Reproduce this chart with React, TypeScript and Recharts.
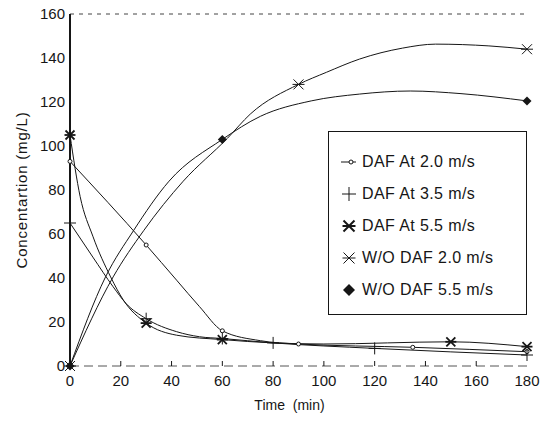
import { ComposedChart, Line, Scatter, XAxis, YAxis } from 'recharts';

// axis ticks
const timeTicks = [0, 20, 40, 60, 80, 100, 120, 140, 160, 180];
const concTicks = [0, 20, 40, 60, 80, 100, 120, 140, 160];

const seriesNames = [
  'DAF At 2.0 m/s',
  'DAF At 3.5 m/s',
  'DAF At 5.5 m/s',
  'W/O DAF 2.0 m/s',
  'W/O DAF 5.5 m/s',
];

const daf20Curve = [
  { t: 0, c: 93 }, { t: 30, c: 55 }, { t: 42, c: 39 }, { t: 51, c: 27 }, { t: 60, c: 16 },
  { t: 75, c: 11.5 }, { t: 90, c: 10 }, { t: 135, c: 8.5 }, { t: 180, c: 6.5 },
];
const daf20Points = [
  { t: 0, c: 93 }, { t: 30, c: 55 }, { t: 60, c: 16 }, { t: 90, c: 10 }, { t: 135, c: 8.5 }, { t: 180, c: 6.5 },
];

const daf35Curve = [
  { t: 0, c: 65 }, { t: 9, c: 49.5 }, { t: 17, c: 36 }, { t: 22, c: 28.5 }, { t: 30, c: 21.5 },
  { t: 42, c: 15.6 }, { t: 51, c: 13.3 }, { t: 60, c: 12.5 }, { t: 80, c: 10.5 }, { t: 120, c: 8 }, { t: 180, c: 5 },
];
const daf35Points = [
  { t: 0, c: 65 }, { t: 30, c: 21.5 }, { t: 60, c: 12.5 }, { t: 80, c: 10.5 }, { t: 120, c: 8 }, { t: 180, c: 5 },
];

const daf55Curve = [
  { t: 0, c: 105 }, { t: 4, c: 77 }, { t: 9, c: 59 }, { t: 16, c: 40.5 }, { t: 21, c: 30 }, { t: 30, c: 19.5 },
  { t: 42, c: 14 }, { t: 60, c: 12 }, { t: 80, c: 10.5 }, { t: 100, c: 10 }, { t: 150, c: 11 }, { t: 180, c: 8.8 },
];
const daf55Points = [
  { t: 0, c: 105 }, { t: 30, c: 19.5 }, { t: 60, c: 12 }, { t: 150, c: 11 }, { t: 180, c: 8.8 },
];

const wo20Curve = [
  { t: 0, c: 0 }, { t: 17, c: 40.5 }, { t: 29, c: 61.5 }, { t: 44.6, c: 84 }, { t: 62, c: 103.5 },
  { t: 71, c: 114.5 }, { t: 90, c: 128 }, { t: 101, c: 133.5 }, { t: 114, c: 139.5 }, { t: 131, c: 144.5 },
  { t: 144, c: 146.3 }, { t: 165, c: 145.5 }, { t: 180, c: 144 },
];
const wo20Points = [{ t: 0, c: 0 }, { t: 90, c: 128 }, { t: 180, c: 144 }];

const wo55Curve = [
  { t: 0, c: 0 }, { t: 14, c: 40.5 }, { t: 25, c: 61.5 }, { t: 39, c: 84 }, { t: 60, c: 103 },
  { t: 75, c: 113.5 }, { t: 95, c: 120.5 }, { t: 114, c: 123.6 }, { t: 134, c: 125 }, { t: 154, c: 123.8 },
  { t: 180, c: 120.5 },
];
const wo55Points = [{ t: 0, c: 0 }, { t: 60, c: 103 }, { t: 180, c: 120.5 }];

const INK = '#161616';
const FONT = '"Liberation Sans", Arial, Helvetica, sans-serif';

// marker glyphs
const OpenDot = ({ cx, cy }: any) => (
  <circle cx={cx} cy={cy} r={2} fill="#fff" stroke={INK} strokeWidth={1} />
);
const Plus = ({ cx, cy, s = 6 }: any) => (
  <g stroke={INK} strokeWidth={1}>
    <line x1={cx - s} x2={cx + s} y1={cy} y2={cy} />
    <line x1={cx} x2={cx} y1={cy - s} y2={cy + s} />
  </g>
);
const Asterisk = ({ cx, cy, s = 4.5, w = 1.8 }: any) => (
  <g stroke={INK} strokeWidth={w}>
    <line x1={cx - s} x2={cx + s} y1={cy - s} y2={cy + s} />
    <line x1={cx - s} x2={cx + s} y1={cy + s} y2={cy - s} />
    <line x1={cx - s - 1} x2={cx + s + 1} y1={cy} y2={cy} />
  </g>
);
const ThinStar = ({ cx, cy, s = 5 }: any) => <Asterisk cx={cx} cy={cy} s={s} w={1} />;
const Diamond = ({ cx, cy, s = 4.5 }: any) => (
  <polygon
    points={`${cx},${cy - s} ${cx + s},${cy} ${cx},${cy + s} ${cx - s},${cy}`}
    fill={INK}
  />
);

const TimeTick = ({ x, y, payload }: any) => (
  <g>
    {payload.value > 0 && payload.value < 180 && (
      <line x1={x} x2={x} y1={y - 4} y2={y - 9} stroke={INK} strokeWidth={1} />
    )}
    <text x={x} y={y} dy={16} textAnchor="middle" fill={INK} fontSize={15} fontFamily={FONT}>
      {payload.value}
    </text>
  </g>
);

const legendIcons = [
  <g key="a">
    <line x1={1} x2={16} y1={9} y2={9} stroke={INK} strokeWidth={1} />
    <OpenDot cx={11} cy={9} />
  </g>,
  <Plus key="b" cx={9} cy={9} s={7} />,
  <Asterisk key="c" cx={9} cy={9} s={5.5} w={2} />,
  <ThinStar key="d" cx={9} cy={9} s={5.5} />,
  <Diamond key="e" cx={9} cy={9} s={6} />,
];

export default function App() {
  return (
    <div style={{ position: 'absolute', left: 0, top: 0, width: 543, height: 423, background: '#fff' }}>
      <ComposedChart width={543} height={423} margin={{ top: 13, right: 16, left: 0, bottom: 0 }}>
        <XAxis
          dataKey="t"
          type="number"
          domain={[0, 180]}
          ticks={timeTicks}
          height={57}
          tickSize={0}
          tickMargin={4}
          tick={<TimeTick />}
          axisLine={{ stroke: '#555', strokeWidth: 1, strokeDasharray: '9 5' }}
          label={{
            content: ({ viewBox }: any) => (
              <text
                x={viewBox.x + viewBox.width / 2 - 9}
                y={viewBox.y + viewBox.height - 13}
                textAnchor="middle"
                fill={INK}
                fontSize={14}
                fontFamily={FONT}
                style={{ whiteSpace: 'pre' }}
              >
                {'Time  (min)'}
              </text>
            ),
          }}
        />
        <XAxis
          xAxisId="top"
          orientation="top"
          type="number"
          domain={[0, 180]}
          height={1}
          tick={false}
          tickLine={false}
          axisLine={{ stroke: '#444', strokeWidth: 1, strokeDasharray: '4 5' }}
        />
        <YAxis
          type="number"
          domain={[0, 160]}
          ticks={concTicks}
          width={70}
          tickSize={0}
          tickMargin={5}
          tick={{ fill: INK, fontSize: 15, fontFamily: FONT }}
          axisLine={{ stroke: INK, strokeWidth: 2 }}
          label={{
            content: ({ viewBox }: any) => {
              const cx = viewBox.x + 21;
              const cy = viewBox.y + viewBox.height / 2;
              return (
                <text
                  x={cx}
                  y={cy}
                  transform={`rotate(-90, ${cx}, ${cy})`}
                  textAnchor="middle"
                  dominantBaseline="central"
                  fill={INK}
                  fontSize={15}
                  letterSpacing={0.8}
                  fontFamily={FONT}
                >
                  Concentartion (mg/L)
                </text>
              );
            },
          }}
        />
        <YAxis
          yAxisId="right"
          orientation="right"
          type="number"
          domain={[0, 160]}
          width={0}
          tick={false}
          tickLine={false}
          axisLine={{ stroke: INK, strokeWidth: 1.5 }}
        />

        <Line data={daf20Curve} dataKey="c" type="monotone" stroke={INK} strokeWidth={1} dot={false} activeDot={false} isAnimationActive={false} />
        <Line data={daf35Curve} dataKey="c" type="monotone" stroke={INK} strokeWidth={1} dot={false} activeDot={false} isAnimationActive={false} />
        <Line data={daf55Curve} dataKey="c" type="monotone" stroke={INK} strokeWidth={1} dot={false} activeDot={false} isAnimationActive={false} />
        <Line data={wo20Curve} dataKey="c" type="monotone" stroke={INK} strokeWidth={1} dot={false} activeDot={false} isAnimationActive={false} />
        <Line data={wo55Curve} dataKey="c" type="monotone" stroke={INK} strokeWidth={1} dot={false} activeDot={false} isAnimationActive={false} />

        <Scatter data={daf20Points} dataKey="c" shape={(p: any) => <OpenDot {...p} />} isAnimationActive={false} />
        <Scatter data={daf35Points} dataKey="c" shape={(p: any) => <Plus cx={p.cx} cy={p.cy} />} isAnimationActive={false} />
        <Scatter data={daf55Points} dataKey="c" shape={(p: any) => <Asterisk cx={p.cx} cy={p.cy} />} isAnimationActive={false} />
        <Scatter data={wo20Points} dataKey="c" shape={(p: any) => <ThinStar cx={p.cx} cy={p.cy} />} isAnimationActive={false} />
        <Scatter data={wo55Points} dataKey="c" shape={(p: any) => <Diamond cx={p.cx} cy={p.cy} />} isAnimationActive={false} />
      </ComposedChart>

      {/* Legend box */}
      <div
        style={{
          position: 'absolute',
          left: 328,
          top: 131,
          width: 199,
          height: 184,
          boxSizing: 'border-box',
          border: `1.5px solid ${INK}`,
          background: '#fff',
          paddingTop: 14,
          paddingLeft: 11,
          fontFamily: FONT,
          fontSize: 16,
          color: INK,
        }}
      >
        {seriesNames.map((name, i) => (
          <div key={name} style={{ height: 32, display: 'flex', alignItems: 'center' }}>
            <svg width={18} height={18} style={{ marginRight: 4 }}>
              {legendIcons[i]}
            </svg>
            <span style={{ letterSpacing: 0.4 }}>{name}</span>
          </div>
        ))}
      </div>
    </div>
  );
}
